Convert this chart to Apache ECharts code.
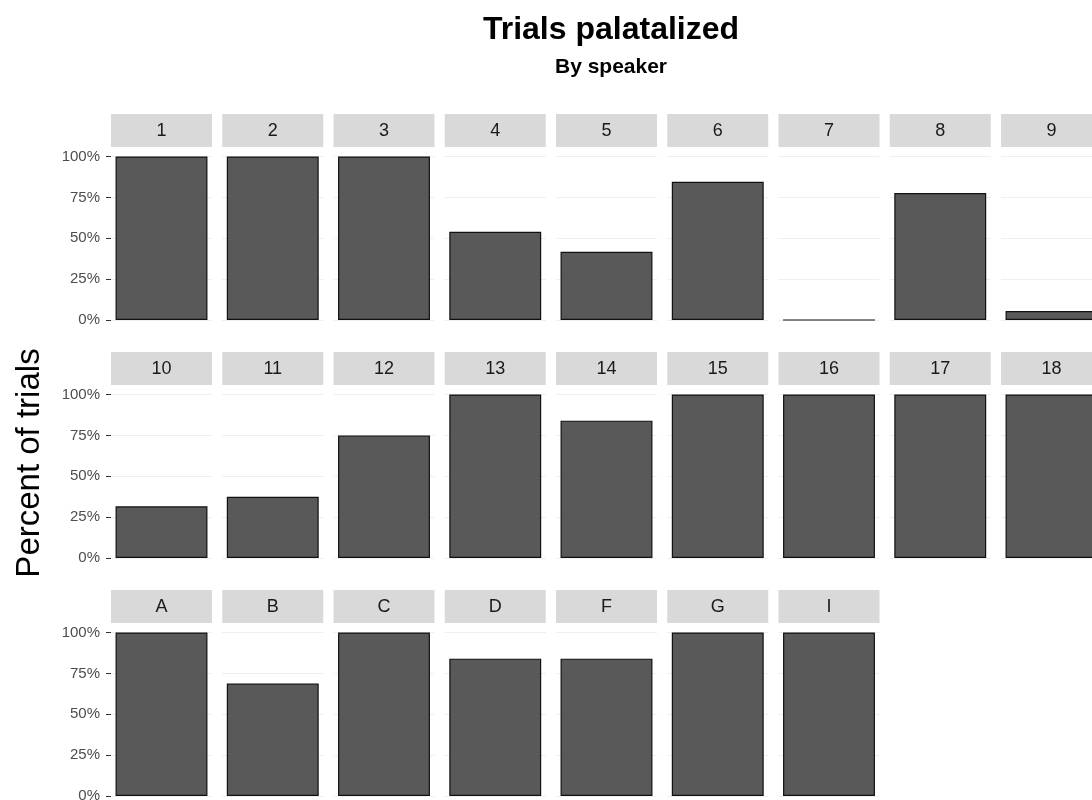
<!DOCTYPE html>
<html>
<head>
<meta charset="utf-8">
<script src="https://cdn.jsdelivr.net/npm/echarts@6/dist/echarts.min.js"></script>
<style>
  html, body { margin: 0; padding: 0; background: #fff; }
  #chart-container { width: 1092px; height: 800px; }
</style>
</head>
<body>
<div id="chart-container"></div>
<script>
// speakers, in facet order (row by row)
var speakers = ["1", "2", "3", "4", "5", "6", "7", "8", "9",
  "10", "11", "12", "13", "14", "15", "16", "17", "18",
  "A", "B", "C", "D", "F", "G", "I"];
// share of trials palatalized per speaker
var percentPalatalized = [1, 1, 1, 0.54, 0.417, 0.846, 0, 0.776, 0.055,
  0.316, 0.375, 0.75, 1, 0.84, 1, 1, 1, 1,
  1, 0.6875, 1, 0.84, 0.84, 1, 1];
var yTicks = [0, 0.25, 0.5, 0.75, 1];

var dom = document.getElementById("chart-container");
var myChart = echarts.init(dom, null, { renderer: "canvas" });

// facet layout
var nCols = 9;
var colLeft = 111, colPitch = 111.25, panelW = 101;
var rowTops = [156.5, 394.5, 632.5], panelH = 163.5;
var stripOffset = 42.5, stripH = 33;

var grids = [], xAxes = [], yAxes = [], series = [], graphics = [];

speakers.forEach(function (sp, i) {
  var row = Math.floor(i / nCols), col = i % nCols;
  var left = colLeft + col * colPitch;
  var top = rowTops[row];
  grids.push({
    left: left, top: top, width: panelW, height: panelH,
    containLabel: false,
    outerBoundsMode: "none"
  });
  xAxes.push({
    gridIndex: i,
    type: "category",
    data: [sp],
    axisLine: { show: false },
    axisTick: { show: false },
    axisLabel: { show: false },
    splitLine: { show: false }
  });
  yAxes.push({
    gridIndex: i,
    type: "value",
    min: yTicks[0],
    max: yTicks[yTicks.length - 1],
    interval: 0.25,
    axisLine: { show: false },
    axisTick: { show: col === 0, length: 5, lineStyle: { color: "#333333", width: 1 } },
    axisLabel: {
      show: col === 0,
      margin: 11,
      color: "#4d4d4d",
      fontSize: 15,
      fontFamily: "Liberation Sans",
      formatter: function (v) { return Math.round(v * 100) + "%"; }
    },
    splitLine: { show: true, lineStyle: { color: "#efefef", width: 1 } }
  });
  series.push({
    type: "bar",
    xAxisIndex: i,
    yAxisIndex: i,
    data: [percentPalatalized[i]],
    barWidth: "91%",
    itemStyle: { color: "#595959", borderColor: "#111111", borderWidth: 1.2 },
    silent: true
  });
  // facet strip
  graphics.push({
    type: "rect",
    silent: true,
    shape: { x: left, y: top - stripOffset, width: panelW, height: stripH },
    style: { fill: "#d9d9d9" }
  });
  graphics.push({
    type: "text",
    silent: true,
    x: left + panelW / 2,
    y: top - stripOffset + stripH / 2 + 1,
    style: {
      text: sp,
      fill: "#1a1a1a",
      font: "18px 'Liberation Sans'",
      align: "center",
      verticalAlign: "middle"
    }
  });
});

graphics.push({
  type: "text",
  silent: true,
  x: 30,
  y: 463,
  rotation: Math.PI / 2,
  style: {
    text: "Percent of trials",
    fill: "#000000",
    font: "33px 'Liberation Sans'",
    align: "center",
    verticalAlign: "middle"
  }
});

var option = {
  backgroundColor: "#ffffff",
  animation: false,
  title: {
    text: "Trials palatalized",
    subtext: "By speaker",
    left: 606,
    textAlign: "center",
    top: 9,
    itemGap: 11,
    textStyle: { fontFamily: "Liberation Sans", fontWeight: "bold", fontSize: 32, color: "#000000" },
    subtextStyle: { fontFamily: "Liberation Sans", fontWeight: "bold", fontSize: 21, color: "#000000" }
  },
  grid: grids,
  xAxis: xAxes,
  yAxis: yAxes,
  series: series,
  graphic: graphics
};

myChart.setOption(option);
window.addEventListener("resize", myChart.resize);
</script>
</body>
</html>
